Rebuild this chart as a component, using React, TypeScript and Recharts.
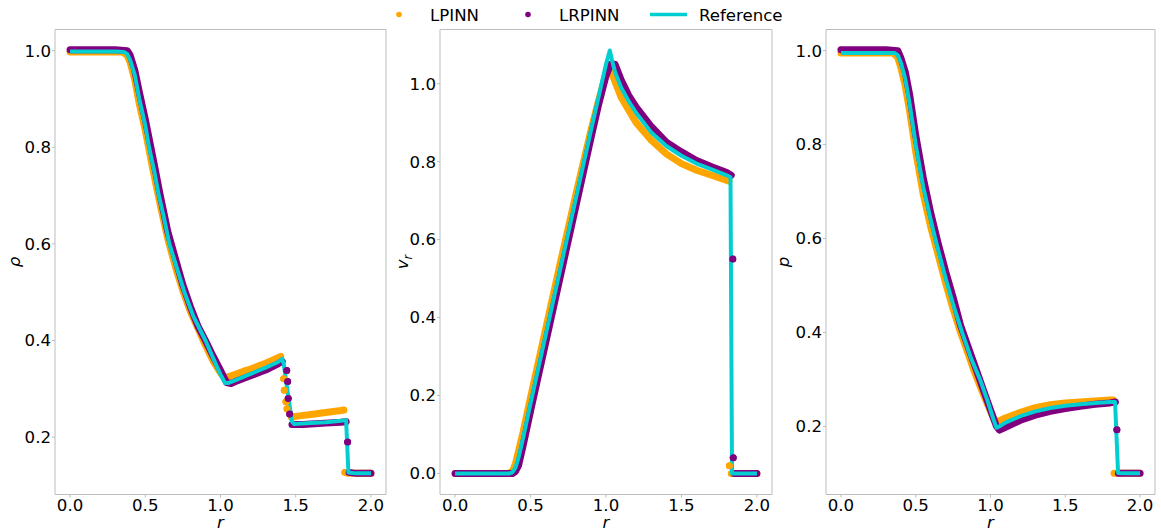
import { ComposedChart, Line, XAxis, YAxis, ReferenceArea } from "recharts";

// ── Data ──────────────────────────────────────────────────────────────────────
// [r, value]; a null value breaks the line so isolated scatter points stay apart

type Pt = [number, number | null];

const rTicks = [0, 0.5, 1, 1.5, 2];
const rhoTicks = [0.2, 0.4, 0.6, 0.8, 1.0];
const vTicks = [0, 0.2, 0.4, 0.6, 0.8, 1.0];
const pTicks = [0.2, 0.4, 0.6, 0.8, 1.0];

const rhoRef: Pt[] = [
  [0, 0.998], [0.1, 0.998], [0.2, 0.998], [0.3, 0.998], [0.36, 0.997], [0.38, 0.993],
  [0.4, 0.98], [0.43, 0.95], [0.46, 0.9], [0.5, 0.845], [0.525, 0.8], [0.56, 0.75],
  [0.59, 0.7], [0.62, 0.66], [0.66, 0.6], [0.71, 0.55], [0.76, 0.5], [0.82, 0.45],
  [0.9, 0.4], [0.97, 0.35], [1.0, 0.33], [1.03, 0.312], [1.05, 0.312], [1.1, 0.318],
  [1.2, 0.331], [1.3, 0.344], [1.38, 0.355], [1.41, 0.362], [1.42, 0.352], [1.475, 0.232],
  [1.49, 0.227], [1.6, 0.229], [1.7, 0.231], [1.8, 0.234], [1.835, 0.235], [1.85, 0.127],
  [1.9, 0.125], [2.0, 0.125],
];

const rhoLp: Pt[] = [
  [0, 0.997], [0.1, 0.997], [0.2, 0.997], [0.3, 0.997], [0.35, 0.997], [0.38, 0.99],
  [0.4, 0.975], [0.43, 0.94], [0.46, 0.89], [0.5, 0.835], [0.55, 0.755], [0.6, 0.68],
  [0.65, 0.61], [0.7, 0.553], [0.75, 0.503], [0.8, 0.46], [0.85, 0.425], [0.9, 0.39],
  [0.95, 0.358], [1.0, 0.333], [1.03, 0.322], [1.06, 0.326], [1.1, 0.33], [1.15, 0.336],
  [1.2, 0.341], [1.25, 0.347], [1.3, 0.353], [1.35, 0.36], [1.4, 0.367],
  [1.41, null], [1.42, 0.321], [1.421, null], [1.424, 0.297], [1.43, null], [1.435, 0.273],
  [1.44, null], [1.442, 0.259], [1.45, null],
  [1.47, 0.241], [1.5, 0.243], [1.55, 0.245], [1.6, 0.247], [1.65, 0.249], [1.7, 0.251],
  [1.75, 0.253], [1.8, 0.255], [1.82, 0.256], [1.822, null],
  [1.825, 0.127], [1.85, 0.125], [1.9, 0.125], [1.95, 0.125], [2.0, 0.125],
];

const rhoLr: Pt[] = [
  [0, 1.002], [0.1, 1.002], [0.2, 1.002], [0.3, 1.002], [0.38, 1.0], [0.4, 0.99],
  [0.43, 0.96], [0.46, 0.915], [0.5, 0.858], [0.55, 0.78], [0.6, 0.7], [0.65, 0.625],
  [0.7, 0.57], [0.75, 0.515], [0.8, 0.47], [0.85, 0.43], [0.9, 0.4], [0.95, 0.368],
  [1.0, 0.338], [1.04, 0.313], [1.07, 0.311], [1.1, 0.315], [1.2, 0.327], [1.3, 0.339],
  [1.38, 0.351], [1.41, 0.357], [1.42, null], [1.44, 0.338], [1.442, null], [1.446, 0.315],
  [1.448, null], [1.45, 0.28], [1.452, null], [1.46, 0.248], [1.462, null],
  [1.475, 0.226], [1.55, 0.226], [1.6, 0.227], [1.7, 0.229], [1.8, 0.231], [1.835, 0.232],
  [1.84, null], [1.845, 0.19], [1.85, null],
  [1.855, 0.127], [1.9, 0.125], [1.95, 0.125], [2.0, 0.125],
];

const vRef: Pt[] = [
  [0, 0], [0.1, 0], [0.2, 0], [0.3, 0], [0.36, 0], [0.38, 0.003], [0.4, 0.015],
  [0.42, 0.04], [0.45, 0.09], [0.5, 0.18], [0.6, 0.355], [0.7, 0.53], [0.8, 0.705],
  [0.9, 0.88], [0.95, 0.965], [1.0, 1.05], [1.025, 1.085], [1.04, 1.06], [1.06, 1.03],
  [1.1, 0.99], [1.15, 0.955], [1.2, 0.925], [1.3, 0.875], [1.4, 0.84], [1.5, 0.815],
  [1.6, 0.795], [1.7, 0.78], [1.8, 0.765], [1.825, 0.76], [1.835, 0.0], [1.9, 0], [2.0, 0],
];

const vLp: Pt[] = [
  [0, 0], [0.1, 0], [0.2, 0], [0.3, 0], [0.35, 0], [0.38, 0.005], [0.4, 0.025],
  [0.45, 0.105], [0.5, 0.195], [0.6, 0.37], [0.7, 0.545], [0.8, 0.715], [0.9, 0.88],
  [0.95, 0.955], [1.0, 1.025], [1.02, 1.04], [1.05, 1.015], [1.1, 0.965], [1.2, 0.9],
  [1.3, 0.855], [1.4, 0.82], [1.5, 0.795], [1.6, 0.778], [1.7, 0.765], [1.8, 0.752],
  [1.815, 0.75], [1.817, null], [1.818, 0.02], [1.82, null],
  [1.83, 0], [1.9, 0], [1.95, 0], [2.0, 0],
];

const vLr: Pt[] = [
  [0, 0], [0.1, 0], [0.2, 0], [0.3, 0], [0.38, 0], [0.4, 0.005], [0.42, 0.02],
  [0.45, 0.07], [0.5, 0.16], [0.6, 0.335], [0.7, 0.51], [0.8, 0.685], [0.9, 0.86],
  [0.95, 0.945], [1.0, 1.02], [1.03, 1.05], [1.06, 1.05], [1.1, 1.01], [1.15, 0.97],
  [1.2, 0.94], [1.3, 0.89], [1.4, 0.85], [1.5, 0.825], [1.6, 0.803], [1.7, 0.787],
  [1.8, 0.772], [1.83, 0.765], [1.835, null], [1.84, 0.55], [1.841, null], [1.843, 0.04],
  [1.845, null], [1.85, 0], [1.9, 0], [1.95, 0], [2.0, 0],
];

const pRef: Pt[] = [
  [0, 0.995], [0.1, 0.995], [0.2, 0.995], [0.3, 0.995], [0.36, 0.995], [0.38, 0.99],
  [0.4, 0.975], [0.43, 0.94], [0.46, 0.885], [0.5, 0.8], [0.55, 0.71], [0.6, 0.64],
  [0.63, 0.6], [0.7, 0.515], [0.75, 0.46], [0.81, 0.4], [0.87, 0.345], [0.93, 0.3],
  [0.98, 0.255], [1.02, 0.215], [1.04, 0.197], [1.06, 0.2], [1.1, 0.208], [1.2, 0.222],
  [1.3, 0.232], [1.4, 0.239], [1.5, 0.244], [1.6, 0.247], [1.7, 0.25], [1.8, 0.252],
  [1.833, 0.252], [1.853, 0.101], [1.9, 0.1], [2.0, 0.1],
];

const pLp: Pt[] = [
  [0, 0.995], [0.1, 0.995], [0.2, 0.995], [0.3, 0.995], [0.35, 0.995], [0.38, 0.985],
  [0.4, 0.965], [0.43, 0.925], [0.46, 0.87], [0.5, 0.785], [0.55, 0.695], [0.6, 0.625],
  [0.65, 0.565], [0.7, 0.505], [0.75, 0.45], [0.8, 0.4], [0.85, 0.355], [0.9, 0.31],
  [0.95, 0.27], [1.0, 0.232], [1.03, 0.21], [1.06, 0.212], [1.1, 0.218], [1.2, 0.23],
  [1.3, 0.24], [1.4, 0.246], [1.5, 0.25], [1.6, 0.252], [1.7, 0.254], [1.8, 0.256],
  [1.82, 0.256], [1.822, null], [1.826, 0.1], [1.85, 0.1], [1.9, 0.1], [1.95, 0.1], [2.0, 0.1],
];

const pLr: Pt[] = [
  [0, 1.002], [0.1, 1.002], [0.2, 1.002], [0.3, 1.002], [0.38, 1.0], [0.4, 0.985],
  [0.43, 0.955], [0.46, 0.905], [0.5, 0.82], [0.55, 0.73], [0.6, 0.655], [0.65, 0.59],
  [0.7, 0.53], [0.75, 0.475], [0.8, 0.415], [0.85, 0.37], [0.9, 0.325], [0.95, 0.28],
  [1.0, 0.235], [1.04, 0.2], [1.06, 0.192], [1.1, 0.198], [1.2, 0.213], [1.3, 0.224],
  [1.4, 0.232], [1.5, 0.238], [1.6, 0.243], [1.7, 0.247], [1.8, 0.25], [1.835, 0.252],
  [1.84, null], [1.845, 0.193], [1.85, null], [1.855, 0.1], [1.9, 0.1], [1.95, 0.1], [2.0, 0.1],
];

// ── Styling ───────────────────────────────────────────────────────────────────

const ORANGE = "#ffa500";
const PURPLE = "#800080";
const CYAN = "#00ced1";
const FONT = "'DejaVu Sans', sans-serif";
const BORDER = "#bdbdbd";
const FS = 16.6;
const TICK = { fontSize: FS, fill: "#000", fontFamily: FONT };

const rows = (pts: Pt[]) => pts.map(([r, v]) => ({ r, v }));
const fmt = (v: number) => v.toFixed(1);

// only points with no neighbours get a visible marker; the rest form the band
const isolatedDot = (pts: Pt[], color: string) => (props: any) => {
  const { cx, cy, index } = props;
  const prev = pts[index - 1];
  const next = pts[index + 1];
  const alone = (!prev || prev[1] === null) && (!next || next[1] === null);
  if (!alone || pts[index][1] === null || cy == null) return <g key={`d${index}`} />;
  return <circle key={`d${index}`} cx={cx} cy={cy} r={3.5} fill={color} />;
};

function Panel({
  left, width, yDomain, yTicks, lp, lr, refPts,
}: {
  left: number; width: number; yDomain: [number, number]; yTicks: number[];
  lp: Pt[]; lr: Pt[]; refPts: Pt[];
}) {
  const scatter = (pts: Pt[], color: string) => (
    <Line
      data={rows(pts)}
      dataKey="v"
      type="linear"
      stroke={color}
      strokeWidth={7}
      strokeLinejoin="round"
      strokeLinecap="round"
      dot={isolatedDot(pts, color)}
      activeDot={false}
      connectNulls={false}
      isAnimationActive={false}
    />
  );
  return (
    <div style={{ position: "absolute", left, top: 0 }}>
      <ComposedChart width={width} height={531} margin={{ top: 29.5, right: 4, bottom: 0, left: 0 }}>
        <XAxis
          type="number"
          dataKey="r"
          domain={[-0.1, 2.1]}
          ticks={rTicks}
          tickFormatter={fmt}
          allowDataOverflow
          height={36.5}
          axisLine={false}
          tickLine={{ stroke: BORDER }}
          tickSize={3}
          tickMargin={2}
          tick={TICK}
        />
        <YAxis
          type="number"
          domain={yDomain}
          ticks={yTicks}
          tickFormatter={fmt}
          allowDataOverflow
          width={55}
          axisLine={false}
          tickLine={{ stroke: BORDER }}
          tickSize={3}
          tickMargin={1}
          tick={TICK}
        />
        <ReferenceArea x1={-0.1} x2={2.1} y1={yDomain[0]} y2={yDomain[1]} fill="none" stroke={BORDER} strokeWidth={1} />
        {scatter(lp, ORANGE)}
        {scatter(lr, PURPLE)}
        <Line
          data={rows(refPts)}
          dataKey="v"
          type="linear"
          stroke={CYAN}
          strokeWidth={4}
          strokeLinejoin="round"
          dot={false}
          activeDot={false}
          isAnimationActive={false}
        />
      </ComposedChart>
    </div>
  );
}

export default function App() {
  return (
    <div style={{ position: "relative", width: 1161, height: 531, background: "#fff", fontFamily: FONT, overflow: "hidden" }}>
      <style>{"body{margin:0}"}</style>
      <Panel left={0} width={390} yDomain={[0.08125, 1.04375]} yTicks={rhoTicks} lp={rhoLp} lr={rhoLr} refPts={rhoRef} />
      <Panel left={385} width={391} yDomain={[-0.054, 1.139]} yTicks={vTicks} lp={vLp} lr={vLr} refPts={vRef} />
      <Panel left={771} width={388} yDomain={[0.055, 1.045]} yTicks={pTicks} lp={pLp} lr={pLr} refPts={pRef} />

      <svg width={1161} height={531} style={{ position: "absolute", left: 0, top: 0, pointerEvents: "none" }}>
        <g fontFamily={FONT} fontSize={FS} fill="#000">
          {/* legend */}
          <circle cx={399} cy={14.5} r={2.8} fill={ORANGE} />
          <text x={430} y={20.5}>LPINN</text>
          <circle cx={528} cy={14.5} r={2.8} fill={PURPLE} />
          <text x={559} y={20.5}>LRPINN</text>
          <line x1={650} x2={687} y1={14.5} y2={14.5} stroke={CYAN} strokeWidth={3.5} />
          <text x={699} y={20.5}>Reference</text>

          {/* axis labels */}
          <text x={220.5} y={528} textAnchor="middle" fontStyle="italic">r</text>
          <text x={606} y={528} textAnchor="middle" fontStyle="italic">r</text>
          <text x={990.5} y={528} textAnchor="middle" fontStyle="italic">r</text>
          <text transform="translate(20,262) rotate(-90)" textAnchor="middle" fontStyle="italic">ρ</text>
          <text transform="translate(408,262) rotate(-90)" textAnchor="middle" fontStyle="italic">
            v<tspan fontSize={11.5} dy={4}>r</tspan>
          </text>
          <text transform="translate(789,262) rotate(-90)" textAnchor="middle" fontStyle="italic">p</text>
        </g>
      </svg>
    </div>
  );
}
